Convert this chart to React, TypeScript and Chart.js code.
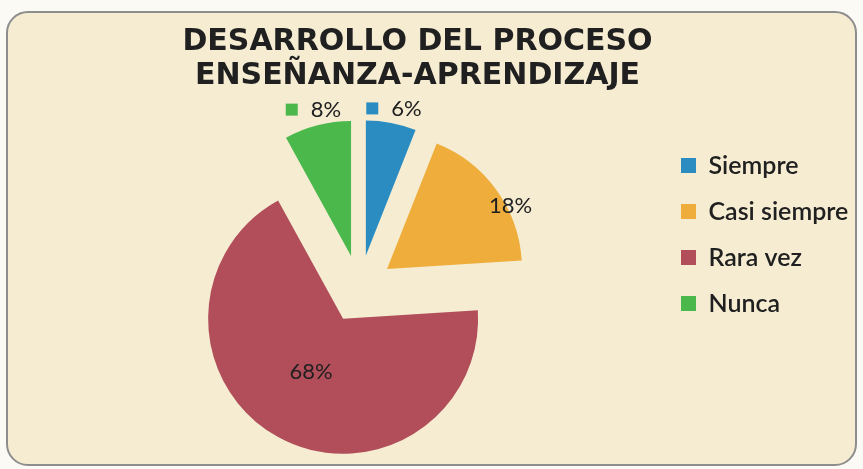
import React, { useEffect, useRef } from "react";
import { Chart, registerables } from "chart.js";

Chart.register(...registerables);

// ---- data ----
const TITLE_LINES = ["DESARROLLO DEL PROCESO", "ENSEÑANZA-APRENDIZAJE"];
const CATEGORIES = ["Siempre", "Casi siempre", "Rara vez", "Nunca"];
const PERCENTS = [6, 18, 68, 8];
const COLORS = ["#2b8cc1", "#efae3c", "#b14e5a", "#4bb84c"];

// ---- styling / layout (not data) ----
const CANVAS_W = 863;
const CANVAS_H = 469;
const PIE_RADIUS = 135;
const EXPLODE = 34;
const LABEL_DIST = [1.11, 1.03, 0.46, 1.12];
const LABEL_SHIFT_DEG = [0, 8.8, 2.3, 0];
const LABEL_WITH_KEY = [true, false, false, true];
const TEXT_COLOR = "#202020";

const explodePlugin = {
  id: "explodeSlices",
  afterDatasetsUpdate(chart: any) {
    const meta = chart.getDatasetMeta(0);
    meta.data.forEach((arc: any) => {
      const mid = (arc.startAngle + arc.endAngle) / 2;
      arc.x += Math.cos(mid) * EXPLODE;
      arc.y += Math.sin(mid) * EXPLODE;
    });
  },
};

// the legend reserves a narrow box on the right (so the title stays centred on the
// whole frame), but its text is allowed to run on to the canvas edge
const legendUnclipPlugin = {
  id: "legendUnclip",
  afterLayout(chart: any) {
    const lg = chart.legend;
    if (lg) {
      lg.right = chart.width;
      lg.width = lg.right - lg.left;
    }
  },
};

const labelPlugin = {
  id: "pctLabels",
  afterDatasetsDraw(chart: any) {
    const ctx = chart.ctx as CanvasRenderingContext2D;
    const meta = chart.getDatasetMeta(0);
    const ds = chart.data.datasets[0];
    ctx.save();
    ctx.font = "22px Lato, sans-serif";
    ctx.textBaseline = "middle";
    meta.data.forEach((arc: any, i: number) => {
      const a = (arc.startAngle + arc.endAngle) / 2 + (LABEL_SHIFT_DEG[i] * Math.PI) / 180;
      const d = arc.outerRadius * LABEL_DIST[i];
      const cx = arc.x + Math.cos(a) * d;
      const cy = arc.y + Math.sin(a) * d;
      const text = `${ds.data[i]}%`;
      const tw = ctx.measureText(text).width;
      if (LABEL_WITH_KEY[i]) {
        const box = 12;
        const gap = 13;
        const left = cx - (box + gap + tw) / 2;
        ctx.fillStyle = ds.backgroundColor[i];
        ctx.fillRect(left, cy - box / 2, box, box);
        ctx.fillStyle = TEXT_COLOR;
        ctx.textAlign = "left";
        ctx.fillText(text, left + box + gap, cy);
      } else {
        ctx.fillStyle = TEXT_COLOR;
        ctx.textAlign = "center";
        ctx.fillText(text, cx, cy);
      }
    });
    ctx.restore();
  },
};

export default function App() {
  const canvasRef = useRef<HTMLCanvasElement | null>(null);

  useEffect(() => {
    if (!canvasRef.current) return;
    const chart = new Chart(canvasRef.current, {
      type: "pie",
      data: {
        labels: CATEGORIES,
        datasets: [
          {
            data: PERCENTS,
            backgroundColor: COLORS,
            borderWidth: 0,
            clip: false,
          } as any,
        ],
      },
      options: {
        responsive: false,
        animation: false,
        events: [],
        radius: PIE_RADIUS,
        layout: { padding: { left: 59, right: 87, top: 0, bottom: 0 } },
        plugins: {
          title: {
            display: true,
            text: TITLE_LINES,
            color: TEXT_COLOR,
            font: { family: "'DejaVu Sans', sans-serif", size: 30, weight: "bold", lineHeight: "34px" },
            padding: { top: 25, bottom: 16 },
          },
          legend: {
            position: "right",
            align: "center",
            maxWidth: 116,
            labels: {
              boxWidth: 15,
              boxHeight: 15,
              padding: 21,
              color: TEXT_COLOR,
              font: { family: "Lato, sans-serif", size: 25, weight: "600" },
            },
          },
          tooltip: { enabled: false },
        },
      } as any,
      plugins: [explodePlugin, legendUnclipPlugin, labelPlugin],
    });
    return () => chart.destroy();
  }, []);

  return (
    <div
      style={{
        position: "fixed",
        left: 0,
        top: 0,
        width: CANVAS_W,
        height: CANVAS_H,
        background: "#fbfaf5",
        overflow: "hidden",
      }}
    >
      <div
        style={{
          position: "absolute",
          left: 6,
          top: 11,
          width: 851,
          height: 455,
          boxSizing: "border-box",
          border: "2px solid #8d8d8d",
          borderRadius: 22,
          background: "#f5ecd2",
        }}
      />
      <canvas
        ref={canvasRef}
        width={CANVAS_W}
        height={CANVAS_H}
        style={{ position: "absolute", left: 0, top: 0, width: CANVAS_W, height: CANVAS_H }}
      />
    </div>
  );
}
